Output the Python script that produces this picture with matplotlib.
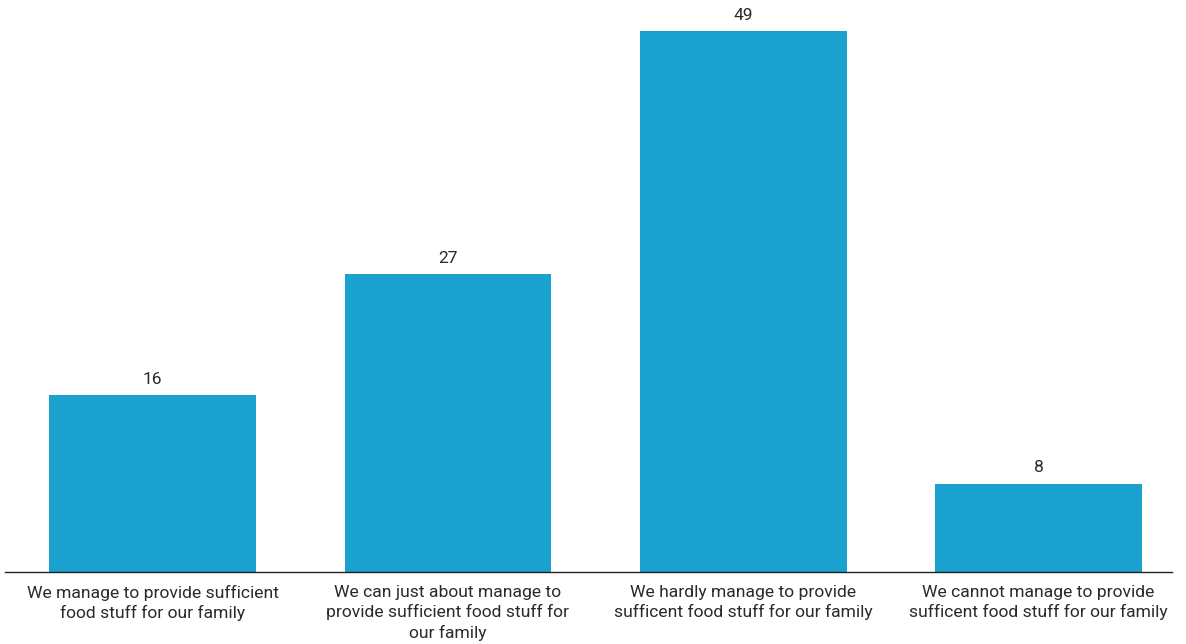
import matplotlib
matplotlib.use("Agg")
import matplotlib.pyplot as plt

categories = [
    "We manage to provide sufficient\nfood stuff for our family",
    "We can just about manage to\nprovide sufficient food stuff for\nour family",
    "We hardly manage to provide\nsufficent food stuff for our family",
    "We cannot manage to provide\nsufficent food stuff for our family",
]
values = [16, 27, 49, 8]

plt.rcParams['font.family'] = ['Roboto', 'DejaVu Sans']

W, H = 1186, 644
fig = plt.figure(figsize=(W / 100, H / 100), dpi=100)
ax = fig.add_axes([5 / W, 72 / H, (1172 - 5) / W, 572 / H])
ax.set_xlim(-0.5, 3.452)
ax.set_ylim(0, 51.8)

x = range(len(values))
ax.bar(x, values, width=0.70, color="#1aa1cd", zorder=2)
for xi, v in zip(x, values):
    ax.text(xi, v + 0.75, str(v), ha="center", va="bottom", fontsize=12.5, color="#2a2a2a")

ax.set_xticks(list(x))
ax.set_xticklabels(categories, fontsize=12.6, color="#2a2a2a", linespacing=1.36)
ax.tick_params(axis="x", length=0, pad=9)
ax.set_yticks([])
for s in ["top", "right", "left"]:
    ax.spines[s].set_visible(False)
ax.spines["bottom"].set_color("#222222")
ax.spines["bottom"].set_linewidth(1.0)

fig.savefig("out.png", dpi=100)
